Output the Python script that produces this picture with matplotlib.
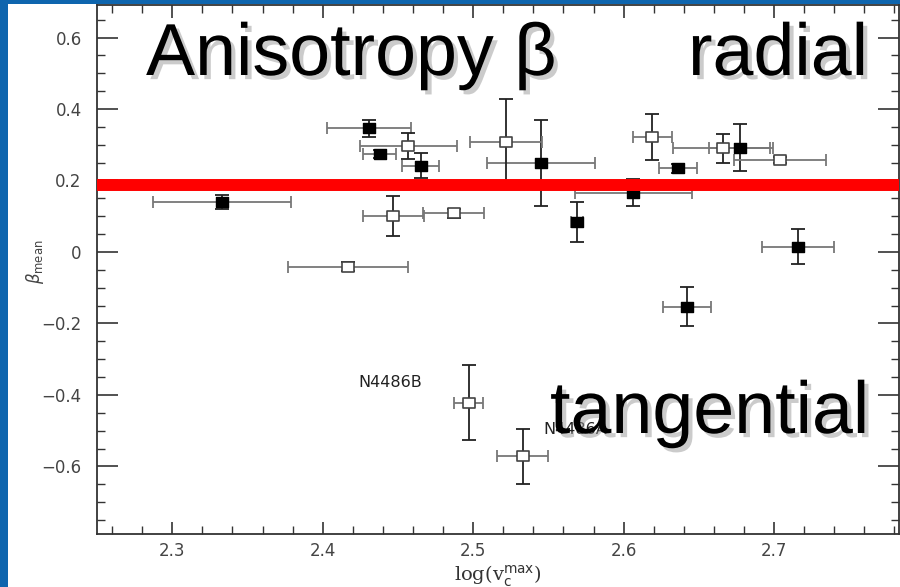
import matplotlib
matplotlib.use("Agg")
import matplotlib.pyplot as plt
import matplotlib.patheffects as pe
from matplotlib.patches import Rectangle
from matplotlib.path import Path
from matplotlib.ticker import MultipleLocator

# ---- data ----
filled_x = [2.333, 2.431, 2.438, 2.465, 2.545, 2.569, 2.6065, 2.636, 2.677, 2.716, 2.642]
filled_y = [0.140, 0.346, 0.274, 0.241, 0.248, 0.084, 0.166, 0.234, 0.292, 0.015, -0.153]
filled_xerr = [0.046, 0.028, 0.011, 0.012, 0.036, 0.004, 0.039, 0.0125, 0.020, 0.024, 0.016]
filled_yerr = [0.020, 0.024, 0.010, 0.035, 0.120, 0.057, 0.037, 0.012, 0.065, 0.049, 0.054]

open_x = [2.457, 2.522, 2.447, 2.487, 2.417, 2.619, 2.666, 2.704, 2.497, 2.533]
open_y = [0.297, 0.307, 0.101, 0.108, -0.041, 0.321, 0.290, 0.257, -0.4215, -0.571]
open_xerr = [0.032, 0.024, 0.020, 0.0205, 0.040, 0.013, 0.033, 0.0305, 0.0097, 0.017]
open_yerr = [0.037, 0.120, 0.055, 0.012, 0.012, 0.065, 0.041, 0.008, 0.104, 0.077]

labels = ["N4486B", "N4486A"]
label_x = [2.4236, 2.5465]
label_y = [-0.366, -0.498]

beta_line = 0.187
xticks = [2.3, 2.4, 2.5, 2.6, 2.7]
yticks = [-0.6, -0.4, -0.2, 0.0, 0.2, 0.4, 0.6]
ytick_labels = ["\u22120.6", "\u22120.4", "\u22120.2", "0", "0.2", "0.4", "0.6"]

W, H = 900, 587
fig = plt.figure(figsize=(W / 100, H / 100), dpi=100)
fig.patch.set_facecolor("#0E65AE")
fig.patches.append(Rectangle((8 / W, 0), 1 - 8 / W, 1 - 4 / H, transform=fig.transFigure,
                             facecolor="white", edgecolor="none", zorder=-10))

ax = fig.add_axes([97 / W, 1 - 534 / H, (899 - 97) / W, (534 - 5) / H])
ax.set_zorder(1)
ax.set_facecolor("white")
ax.set_xlim(2.25, 2.783)
ax.set_ylim(-0.789, 0.691)

rect = Path([(-1.35, -1), (1.35, -1), (1.35, 1), (-1.35, 1), (-1.35, -1)],
            [Path.MOVETO, Path.LINETO, Path.LINETO, Path.LINETO, Path.CLOSEPOLY])

# error bars
for xs, ys, xe, ye in [(filled_x, filled_y, filled_xerr, filled_yerr),
                       (open_x, open_y, open_xerr, open_yerr)]:
    ax.errorbar(xs, ys, xerr=xe, fmt="none", ecolor="#777777", elinewidth=1.3,
                capsize=4, capthick=1.3, zorder=2)
    ax.errorbar(xs, ys, yerr=ye, fmt="none", ecolor="#222222", elinewidth=1.3,
                capsize=5, capthick=1.3, zorder=2)

ax.plot(filled_x, filled_y, linestyle="none", marker=rect, markersize=9,
        markerfacecolor="black", markeredgecolor="black", zorder=3)
ax.plot(open_x, open_y, linestyle="none", marker=rect, markersize=9,
        markerfacecolor="white", markeredgecolor="#444444", markeredgewidth=1.2, zorder=3)

for t, lx, ly in zip(labels, label_x, label_y):
    ax.text(lx, ly, t, fontsize=11.5, color="#222222", ha="left", va="center", zorder=3)

ax.axhline(beta_line, xmin=0.004, xmax=1, color="#FF0000", lw=8.6, zorder=4)

# axes styling
for s in ax.spines.values():
    s.set_linewidth(1.3)
    s.set_color("#333333")
ax.xaxis.set_major_locator(MultipleLocator(0.1))
ax.xaxis.set_minor_locator(MultipleLocator(0.02))
ax.yaxis.set_major_locator(MultipleLocator(0.2))
ax.yaxis.set_minor_locator(MultipleLocator(0.05))
ax.set_xticks(xticks)
ax.set_xticklabels([f"{v:.1f}" for v in xticks])
ax.set_yticks(yticks)
ax.set_yticklabels(ytick_labels)
ax.tick_params(which="both", direction="in", top=True, right=True, colors="#333333")
ax.tick_params(which="major", length=12, width=1.2, labelsize=12, labelcolor="#444444")
ax.tick_params(axis="y", which="major", length=15, pad=11)
ax.tick_params(axis="x", which="major", length=9, pad=6)
ax.tick_params(which="minor", length=6, width=1.0)

ax.set_xlabel(r"log(v$_{\rm c}^{\rm max}$)", family="DejaVu Serif", fontsize=14,
              color="#333333", labelpad=2)
fig.text(35 / W, 1 - 262 / H, r"$\beta_{\rm mean}$", rotation=90, fontsize=12,
         color="#444444", ha="center", va="center")

# big overlay texts
shadow = [pe.SimplePatchShadow(offset=(3, -3), shadow_rgbFace="#999999", alpha=0.5), pe.Normal()]
kw = dict(family="Liberation Sans", fontsize=53, color="black", va="baseline",
          ha="left", path_effects=shadow, zorder=10)
fig.text(146 / W, 1 - 75 / H, "Anisotropy \u03b2", **kw)
fig.text(688 / W, 1 - 75 / H, "radial", **kw)
fig.text(550 / W, 1 - 433 / H, "tangential", **kw)

fig.savefig("out.png", dpi=100, facecolor=fig.get_facecolor())
